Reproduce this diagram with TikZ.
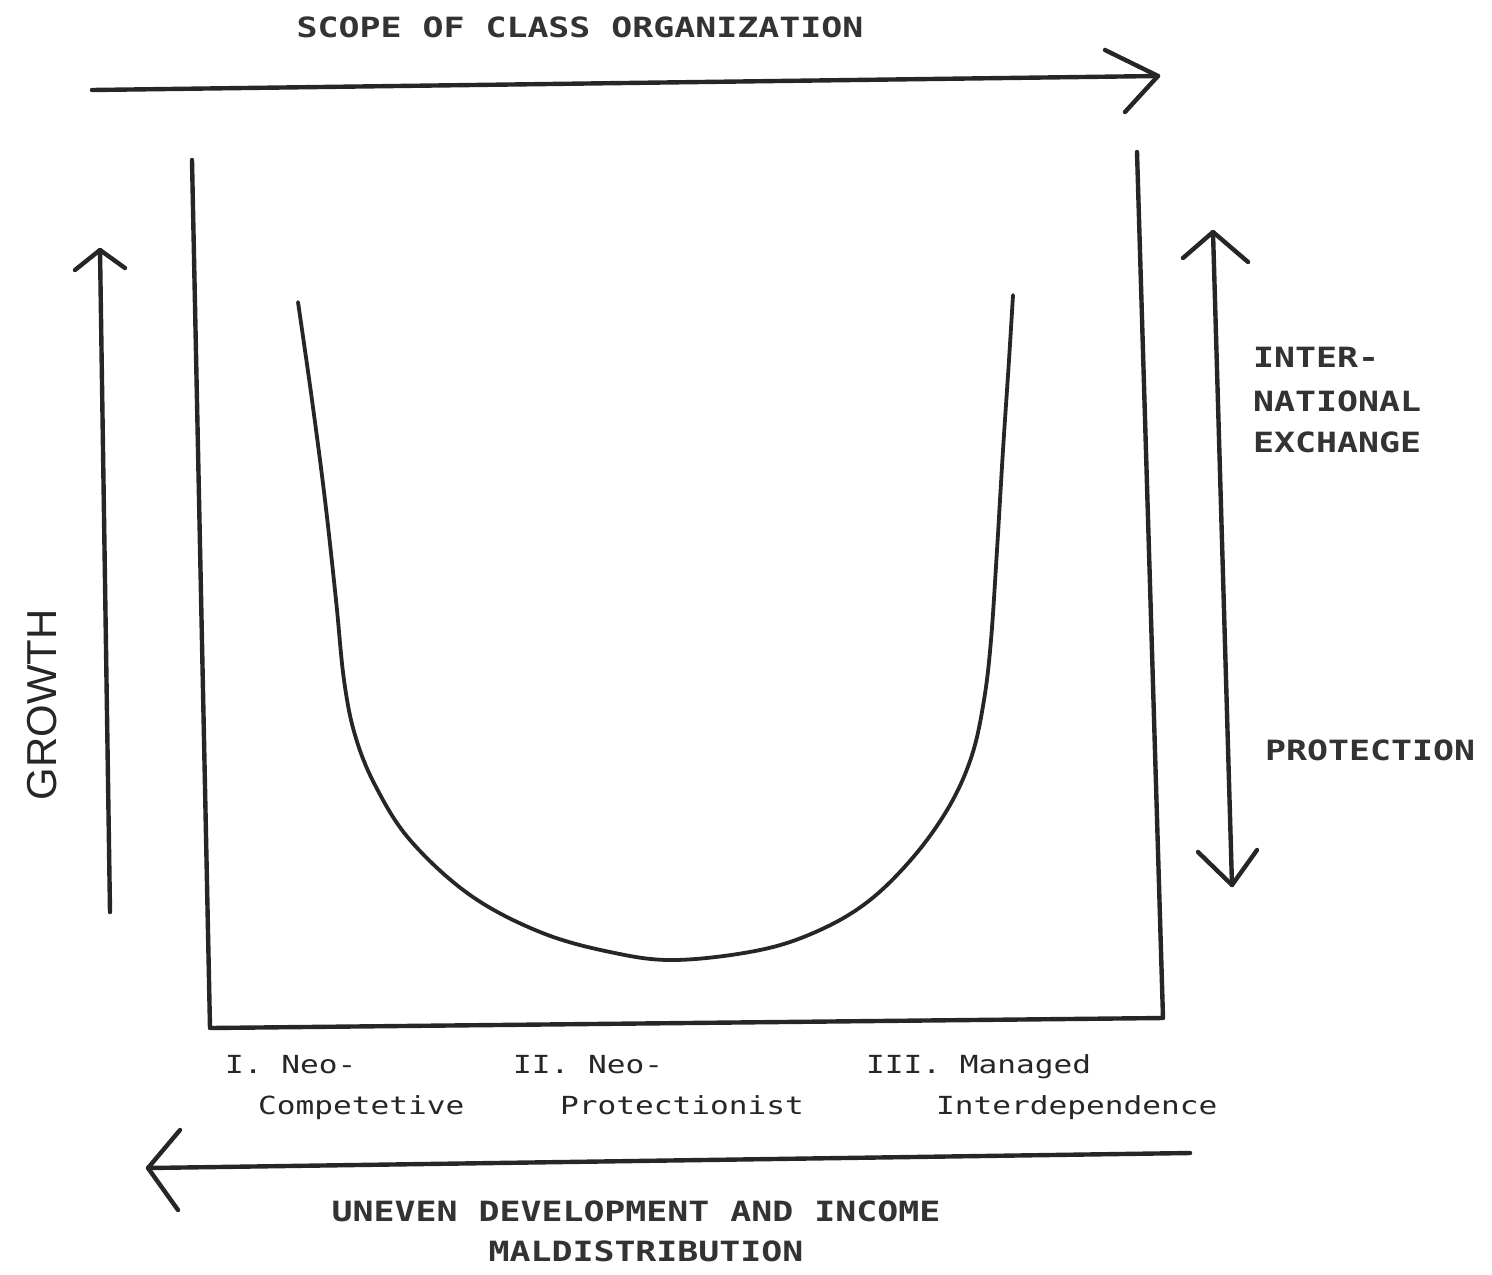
\documentclass[tikz,border=0pt]{standalone}
\usepackage{fontspec}
\newfontfamily\dotfont[FakeStretch=1.25]{DejaVu Sans Mono}
\newfontfamily\handfont{Liberation Sans}
\begin{document}
\begin{tikzpicture}[x=1bp,y=-1bp,
  ink/.style={line width=4.4bp,line cap=round,line join=round,draw=black!85},
  capslabel/.style={font=\dotfont\bfseries\fontsize{28}{40}\selectfont,text=black!80,inner sep=0pt},
  stagelabel/.style={font=\dotfont\fontsize{25}{40}\selectfont,text=black!85,inner sep=0pt,anchor=base west}]
\useasboundingbox (0,0) rectangle (1492,1274);

% top arrow: scope of class organization
\coordinate (sL) at (92,90);
\coordinate (sR) at (1158,76);
\draw[ink] (sL) -- (sR);
\draw[ink] (1105,50) -- (sR) -- (1125,112);
\node[capslabel] (scope) at (580,27) {SCOPE OF CLASS ORGANIZATION};

% frame
\coordinate (fTL) at (192,160);
\coordinate (fBL) at (210,1028);
\coordinate (fBR) at (1163,1018);
\coordinate (fTR) at (1137,152);
\draw[ink] (fTL) -- (fBL) -- (fBR) -- (fTR);

% U-shaped growth curve
\draw[ink,line width=3.8bp] plot[smooth,tension=0.6] coordinates {
  (298,302) (312,400) (325,500) (336,600) (344,680) (355,735) (375,785)
  (410,840) (470,895) (540,932) (610,952) (675,960) (760,950) (820,930)
  (870,900) (915,855) (950,805) (972,755) (984,700) (991,640) (997,550)
  (1003,450) (1009,360) (1013,295)};

% growth arrow
\coordinate (gB) at (110,912);
\coordinate (gT) at (100,250);
\draw[ink] (gB) -- (gT);
\draw[ink] (75,270) -- (gT) -- (125,268);
\node[font=\handfont\fontsize{42}{42}\selectfont,text=black!85,rotate=90,inner sep=0pt] (growth) at (42,705) {GROWTH};

% exchange / protection double arrow
\coordinate (eT) at (1213,232);
\coordinate (eB) at (1232,885);
\draw[ink] (eT) -- (eB);
\draw[ink] (1183,258) -- (eT) -- (1248,262);
\draw[ink] (1198,852) -- (eB) -- (1257,850);
\node[capslabel,anchor=base west] (exch1) at (1253,367) {INTER-};
\node[capslabel,anchor=base west] (exch2) at (1253,411) {NATIONAL};
\node[capslabel,anchor=base west] (exch3) at (1253,452) {EXCHANGE};
\node[capslabel,anchor=base west] (prot) at (1265,760) {PROTECTION};

% stage labels
\node[stagelabel] (s1a) at (225,1073) {I. Neo-};
\node[stagelabel] (s1b) at (258,1114) {Competetive};
\node[stagelabel] (s2a) at (513,1073) {II. Neo-};
\node[stagelabel] (s2b) at (560,1114) {Protectionist};
\node[stagelabel] (s3a) at (866,1073) {III. Managed};
\node[stagelabel] (s3b) at (936,1114) {Interdependence};

% bottom arrow: uneven development
\coordinate (uR) at (1190,1153);
\coordinate (uL) at (148,1168);
\draw[ink] (uR) -- (uL);
\draw[ink] (180,1130) -- (uL) -- (178,1210);
\node[capslabel] (uneven) at (636,1211) {UNEVEN DEVELOPMENT AND INCOME};
\node[capslabel] (maldis) at (646,1251) {MALDISTRIBUTION};
\end{tikzpicture}
\end{document}
